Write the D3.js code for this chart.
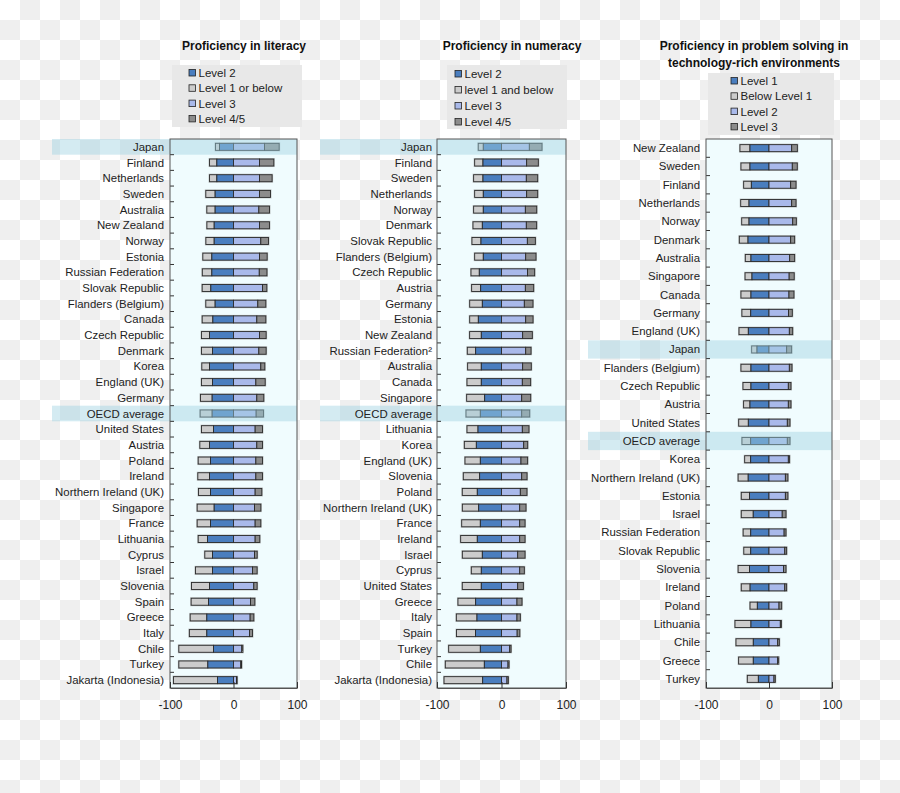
<!DOCTYPE html>
<html>
<head>
<meta charset="utf-8">
<script src="https://cdn.jsdelivr.net/npm/d3@7"></script>
<style>
  html, body { margin: 0; padding: 0; background: #ffffff; }
  svg { display: block; font-family: "Liberation Sans", Arial, sans-serif; }
</style>
</head>
<body>
<svg id="chart" width="900" height="793"></svg>
<script>
// ---------------- DATA ----------------
const literacyCategories = ["Japan","Finland","Netherlands","Sweden","Australia","New Zealand","Norway","Estonia","Russian Federation","Slovak Republic","Flanders (Belgium)","Canada","Czech Republic","Denmark","Korea","England (UK)","Germany","OECD average","United States","Austria","Poland","Ireland","Northern Ireland (UK)","Singapore","France","Lithuania","Cyprus","Israel","Slovenia","Spain","Greece","Italy","Chile","Turkey","Jakarta (Indonesia)"];
const literacyLevel1OrBelow = [6.3,11.5,11.5,14.7,13.1,11.5,13.1,14.2,15.0,13.6,14.7,16.8,12.6,17.3,12.1,17.3,18.4,18.9,18.9,15.2,19.4,18.4,18.9,26.8,21.0,14.7,12.1,26.8,28.3,27.3,26.2,27.5,54.6,45.7,69.3];
const literacyLevel2 = [22.0,26.2,26.2,28.9,28.9,30.4,30.4,34.1,34.1,35.7,28.9,32.5,37.8,33.1,37.8,33.1,33.6,33.6,31.5,37.8,36.2,37.8,36.2,30.4,36.2,40.9,33.1,33.1,37.8,39.4,42.0,42.0,31.5,40.4,25.2];
const literacyLevel3 = [48.8,40.9,40.9,40.9,39.9,40.9,43.0,40.9,40.6,45.7,38.3,36.7,40.9,39.9,43.0,35.2,36.7,35.7,34.1,36.7,35.2,35.2,34.1,33.1,34.1,34.1,33.1,29.9,32.0,26.8,26.2,25.2,13.1,11.5,4.7];
const literacyLevel45 = [23.1,22.6,19.9,17.3,16.8,15.7,12.1,12.1,12.1,6.8,12.6,14.2,10.5,11.5,6.3,14.7,11.0,11.5,11.5,8.9,10.5,10.5,10.5,10.0,8.9,7.3,4.2,7.3,5.2,6.8,5.8,4.7,1.6,1.3,1.0];

const numeracyCategories = ["Japan","Finland","Sweden","Netherlands","Norway","Denmark","Slovak Republic","Flanders (Belgium)","Czech Republic","Austria","Germany","Estonia","New Zealand","Russian Federation²","Australia","Canada","Singapore","OECD average","Lithuania","Korea","England (UK)","Slovenia","Poland","Northern Ireland (UK)","France","Ireland","Israel","Cyprus","United States","Greece","Italy","Spain","Turkey","Chile","Jakarta (Indonesia)"];
const numeracyLevel1AndBelow = [7.8,12.9,14.5,13.4,15.0,14.5,14.0,13.4,12.9,14.0,19.6,13.4,18.1,12.9,21.2,22.2,27.9,22.2,17.1,18.6,23.8,25.3,23.3,25.3,28.9,25.8,31.0,15.5,29.5,27.4,32.0,29.5,49.1,60.5,59.9];
const numeracyLevel2 = [28.2,28.7,28.7,28.2,28.2,29.7,31.8,28.2,34.4,32.3,29.7,35.9,31.3,40.1,31.3,31.3,26.1,32.8,36.4,39.0,32.8,33.9,37.5,35.4,32.8,37.5,29.7,31.3,31.3,40.1,38.0,40.3,32.8,26.6,29.2];
const numeracyLevel3 = [43.2,39.0,38.5,39.0,37.0,38.5,40.1,37.5,40.3,37.0,35.4,37.5,32.8,37.5,32.8,32.3,31.3,31.3,32.3,34.4,30.2,31.3,29.2,28.2,28.2,28.2,25.1,28.2,25.1,24.0,24.0,24.3,12.7,10.1,8.5];
const numeracyLevel45 = [19.6,18.1,17.6,17.1,17.6,16.0,12.4,16.0,11.1,12.9,13.4,11.4,15.0,8.3,13.4,12.9,14.0,12.4,10.3,6.2,10.3,8.3,10.3,9.8,8.3,8.3,11.4,7.2,8.8,7.8,5.2,4.1,2.1,1.6,2.1];

const problemCategories = ["New Zealand","Sweden","Finland","Netherlands","Norway","Denmark","Australia","Singapore","Canada","Germany","England (UK)","Japan","Flanders (Belgium)","Czech Republic","Austria","United States","OECD average","Korea","Northern Ireland (UK)","Estonia","Israel","Russian Federation","Slovak Republic","Slovenia","Ireland","Poland","Lithuania","Chile","Greece","Turkey"];
const problemBelowLevel1 = [15.9,14.3,12.2,13.2,11.6,13.8,9.0,11.0,15.9,14.0,14.8,8.5,15.9,12.7,10.1,15.3,13.8,9.5,16.0,13.0,19.0,12.0,11.0,18.0,14.0,11.6,25.4,27.5,23.3,17.5];
const problemLevel1 = [30.2,30.2,28.0,31.7,31.7,33.3,28.6,27.0,28.6,29.0,32.8,19.0,28.6,28.6,30.2,32.8,29.1,29.1,33.0,31.0,25.0,29.0,29.0,31.0,30.0,18.5,28.6,24.9,24.9,16.9];
const problemLevel2 = [36.0,37.0,34.4,36.0,37.6,34.4,32.8,32.0,31.7,31.0,32.3,28.0,32.3,30.7,30.7,29.1,29.1,30.7,26.0,26.0,21.0,24.0,25.0,23.0,25.0,15.9,18.0,13.8,13.8,7.9];
const problemLevel3 = [9.0,7.9,8.5,6.9,5.8,6.3,7.9,8.0,7.9,6.0,5.3,7.9,4.2,4.2,4.2,4.2,4.2,2.0,4.0,4.0,6.0,3.0,3.0,4.0,3.0,4.2,1.6,2.6,1.6,2.1];

const tickValues = [-100, 0, 100];
const highlightRows = ["Japan", "OECD average"];

const literacyLegend = ["Level 2", "Level 1 or below", "Level 3", "Level 4/5"];
const numeracyLegend = ["Level 2", "level 1 and below", "Level 3", "Level 4/5"];
const problemLegend = ["Level 1", "Below Level 1", "Level 2", "Level 3"];

// ---------------- STYLE ----------------
const COL_INNER_LEFT = "#4a7ebf";   // dark blue (adjacent to zero, left)
const COL_OUTER_LEFT = "#cccccc";   // light grey
const COL_INNER_RIGHT = "#a9b9ea";  // light blue
const COL_OUTER_RIGHT = "#8c8c8c";  // grey
const legendColors = [COL_INNER_LEFT, COL_OUTER_LEFT, COL_INNER_RIGHT, COL_OUTER_RIGHT];

const svg = d3.select("#chart");

// checkerboard background (transparency pattern of the original)
const defs = svg.append("defs");
const pat = defs.append("pattern").attr("id", "checker")
  .attr("width", 40).attr("height", 40).attr("patternUnits", "userSpaceOnUse");
pat.append("rect").attr("width", 40).attr("height", 40).attr("fill", "#ffffff");
pat.append("rect").attr("x", 20).attr("y", 0).attr("width", 20).attr("height", 20).attr("fill", "#efefef");
pat.append("rect").attr("x", 0).attr("y", 20).attr("width", 20).attr("height", 20).attr("fill", "#efefef");
svg.append("rect").attr("width", 900).attr("height", 793).attr("fill", "url(#checker)");

const panels = [
  { cats: literacyCategories, series: [literacyLevel1OrBelow, literacyLevel2, literacyLevel3, literacyLevel45],
    x0: 170, x1: 297, top: 139, bottom: 688, labelRight: 164, bandLeft: 52,
    title: ["Proficiency in literacy"], titleX: 244, titleY: 50,
    legend: literacyLegend, legBox: [172, 65, 130, 62], legX: 189, legY: 73, legStep: 15.3 },
  { cats: numeracyCategories, series: [numeracyLevel1AndBelow, numeracyLevel2, numeracyLevel3, numeracyLevel45],
    x0: 437, x1: 566, top: 139, bottom: 688, labelRight: 432, bandLeft: 320,
    title: ["Proficiency in numeracy"], titleX: 512, titleY: 50,
    legend: numeracyLegend, legBox: [447, 65, 120, 64], legX: 455, legY: 74, legStep: 16 },
  { cats: problemCategories, series: [problemBelowLevel1, problemLevel1, problemLevel2, problemLevel3],
    x0: 706, x1: 832, top: 139, bottom: 688, labelRight: 700, bandLeft: 588,
    title: ["Proficiency in problem solving in", "technology-rich environments"], titleX: 754, titleY: 50,
    legend: problemLegend, legBox: [708, 73, 126, 62], legX: 731, legY: 81, legStep: 15.3 }
];

panels.forEach(p => {
  const g = svg.append("g");
  const x = d3.scaleLinear().domain([-100, 100]).range([p.x0, p.x1]);
  const y = d3.scaleBand().domain(p.cats).range([p.top, p.bottom]).padding(0);
  const barH = 7;

  // title
  const t = g.append("text").attr("x", p.titleX).attr("y", p.titleY)
    .attr("text-anchor", "middle").attr("font-weight", "bold").attr("font-size", 12).attr("fill", "#111");
  p.title.forEach((line, i) => t.append("tspan").attr("x", p.titleX).attr("dy", i === 0 ? 0 : 16.5).text(line));

  // legend
  g.append("rect").attr("x", p.legBox[0]).attr("y", p.legBox[1]).attr("width", p.legBox[2]).attr("height", p.legBox[3])
    .attr("fill", "#e8e8e8");
  p.legend.forEach((name, i) => {
    const ly = p.legY + i * p.legStep;
    g.append("rect").attr("x", p.legX).attr("y", ly - 3.5).attr("width", 6.5).attr("height", 6.5)
      .attr("fill", legendColors[i]).attr("stroke", "#222").attr("stroke-width", 0.8);
    g.append("text").attr("x", p.legX + 9.5).attr("y", ly + 4).attr("font-size", 11.5).attr("fill", "#222").text(name);
  });

  // panel background
  g.append("rect").attr("x", p.x0).attr("y", p.top).attr("width", p.x1 - p.x0).attr("height", p.bottom - p.top)
    .attr("fill", "#f0fcfe");

  // bars
  const rows = p.cats.map((c, i) => ({
    cat: c, a: p.series[0][i], b: p.series[1][i], c3: p.series[2][i], d: p.series[3][i]
  }));
  const segs = [];
  rows.forEach(r => {
    segs.push({ cat: r.cat, from: -(r.a + r.b), to: -r.b, color: COL_OUTER_LEFT });
    segs.push({ cat: r.cat, from: -r.b, to: 0, color: COL_INNER_LEFT });
    segs.push({ cat: r.cat, from: 0, to: r.c3, color: COL_INNER_RIGHT });
    segs.push({ cat: r.cat, from: r.c3, to: r.c3 + r.d, color: COL_OUTER_RIGHT });
  });
  // soft halo behind bars
  g.selectAll("rect.halo").data(rows).join("rect").attr("class", "halo")
    .attr("x", r => x(-(r.a + r.b)) - 1).attr("y", r => y(r.cat) + y.bandwidth() / 2 - barH / 2 - 1)
    .attr("width", r => x(r.c3 + r.d) - x(-(r.a + r.b)) + 2).attr("height", barH + 2)
    .attr("fill", "#9a9a9a").attr("opacity", 0.6);
  g.selectAll("rect.seg").data(segs).join("rect").attr("class", "seg")
    .attr("x", s => x(s.from)).attr("y", s => y(s.cat) + y.bandwidth() / 2 - barH / 2)
    .attr("width", s => x(s.to) - x(s.from)).attr("height", barH)
    .attr("fill", s => s.color).attr("stroke", "#2a2a2a").attr("stroke-width", 0.9);

  // highlight bands (semi-transparent, over bars)
  g.selectAll("rect.hl").data(p.cats.filter(c => highlightRows.includes(c))).join("rect").attr("class", "hl")
    .attr("x", p.bandLeft).attr("y", d => y(d)).attr("width", p.x1 - p.bandLeft).attr("height", y.bandwidth())
    .attr("fill", "#9fd3e3").attr("opacity", 0.45);

  // category labels (on top of bands)
  g.selectAll("text.cat").data(p.cats).join("text").attr("class", "cat")
    .attr("x", p.labelRight).attr("y", d => y(d) + y.bandwidth() / 2 + 4)
    .attr("text-anchor", "end").attr("font-size", 11.4).attr("fill", "#222").text(d => d);

  // left row ticks
  g.selectAll("line.rt").data(p.cats.slice(1)).join("line").attr("class", "rt")
    .attr("x1", p.x0).attr("x2", p.x0 + 4).attr("y1", d => y(d)).attr("y2", d => y(d))
    .attr("stroke", "#333").attr("stroke-width", 1);

  // frame
  g.append("rect").attr("x", p.x0).attr("y", p.top).attr("width", p.x1 - p.x0).attr("height", p.bottom - p.top)
    .attr("fill", "none").attr("stroke", "#555").attr("stroke-width", 1);

  // bottom axis
  const ax = g.append("g").attr("transform", `translate(0,${p.bottom})`)
    .call(d3.axisBottom(x).tickValues(tickValues).tickSizeInner(-6).tickSizeOuter(0).tickPadding(12).tickFormat(d => String(d)));
  ax.select(".domain").attr("stroke", "#555");
  ax.selectAll(".tick line").attr("stroke", "#333");
  ax.selectAll(".tick text").attr("font-size", 12).attr("fill", "#222")
    .attr("font-family", "'Liberation Sans', Arial, sans-serif");
});
</script>
</body>
</html>
